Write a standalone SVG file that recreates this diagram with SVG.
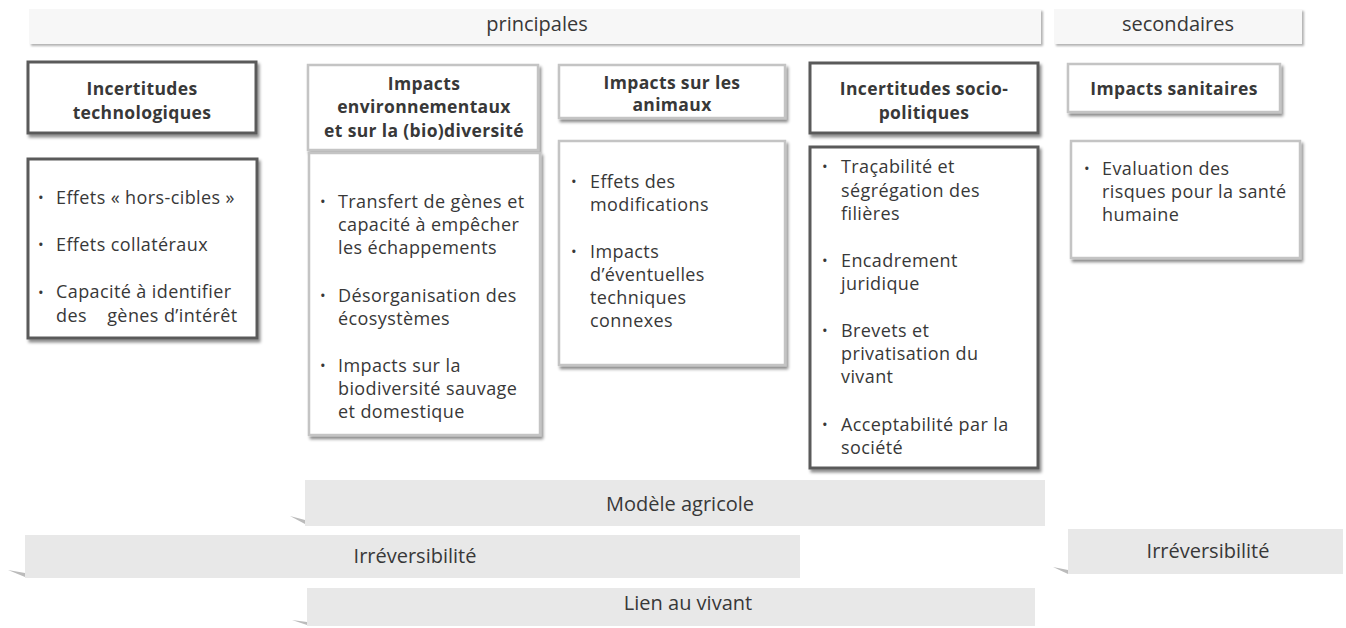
<svg xmlns="http://www.w3.org/2000/svg" width="1346" height="628" viewBox="0 0 1346 628">
<defs>
<filter id="sh" x="-5%" y="-5%" width="115%" height="120%">
<feDropShadow dx="2" dy="3" stdDeviation="1.5" flood-color="#000" flood-opacity="0.45"/>
</filter>
<filter id="sh2" x="-5%" y="-20%" width="115%" height="160%">
<feDropShadow dx="2" dy="2" stdDeviation="1.2" flood-color="#000" flood-opacity="0.3"/>
</filter>
<style>
text{font-family:"Open Sans","Noto Sans","DejaVu Sans",sans-serif;fill:#383838;}
.t{font-size:18px;letter-spacing:0.4px;}
.b{font-size:15px;}
.h{font-size:17.5px;letter-spacing:0.35px;font-weight:bold;text-anchor:middle;}
.c{text-anchor:middle;font-size:20px;}
.dark{fill:#fff;stroke:#5a5a5a;stroke-width:3;filter:url(#sh);}
.light{fill:#fff;stroke:#c4c4c4;stroke-width:2.5;filter:url(#sh);}
.top{fill:#f7f7f7;filter:url(#sh2);}
.bar{fill:#e8e8e8;}
</style>
</defs>

<g id="principales">
<rect class="top" x="29" y="9" width="1012" height="35"/>
<text class="c" x="537" y="31">principales</text>
</g>
<g id="secondaires">
<rect class="top" x="1054" y="9" width="248" height="35"/>
<text class="c" x="1178" y="31">secondaires</text>
</g>

<g id="h1">
<rect class="dark" x="28" y="62" width="228" height="71"/>
<text class="h" x="142" y="95">Incertitudes</text>
<text class="h" x="142" y="119">technologiques</text>
</g>
<g id="h2">
<rect class="light" x="308" y="65" width="230" height="85"/>
<text class="h" x="424" y="90">Impacts</text>
<text class="h" x="424" y="113">environnementaux</text>
<text class="h" x="424" y="137">et sur la (bio)diversité</text>
</g>
<g id="h3">
<rect class="light" x="559" y="65" width="226" height="53"/>
<text class="h" x="672" y="89">Impacts sur les</text>
<text class="h" x="672" y="111">animaux</text>
</g>
<g id="h4">
<rect class="dark" x="810" y="63" width="228" height="70"/>
<text class="h" x="924" y="95">Incertitudes socio-</text>
<text class="h" x="924" y="119">politiques</text>
</g>
<g id="h5">
<rect class="light" x="1068" y="64" width="212" height="48"/>
<text class="h" x="1174" y="95">Impacts sanitaires</text>
</g>

<g id="c1">
<rect class="dark" x="28" y="159" width="229" height="179"/>
<text class="b" x="38" y="203">•</text><text class="t" x="56" y="204">Effets « hors-cibles »</text>
<text class="b" x="38" y="250">•</text><text class="t" x="56" y="251">Effets collatéraux</text>
<text class="b" x="38" y="298">•</text><text class="t" x="56" y="298">Capacité à identifier</text>
<text class="t" x="56" y="322" xml:space="preserve">des    gènes d’intérêt</text>
</g>
<g id="c2">
<rect class="light" x="309" y="153" width="231" height="282"/>
<text class="b" x="320" y="207">•</text><text class="t" x="338" y="208">Transfert de gènes et</text>
<text class="t" x="338" y="231">capacité à empêcher</text>
<text class="t" x="338" y="254">les échappements</text>
<text class="b" x="320" y="301">•</text><text class="t" x="338" y="302">Désorganisation des</text>
<text class="t" x="338" y="325">écosystèmes</text>
<text class="b" x="320" y="371">•</text><text class="t" x="338" y="372">Impacts sur la</text>
<text class="t" x="338" y="395">biodiversité sauvage</text>
<text class="t" x="338" y="418">et domestique</text>
</g>
<g id="c3">
<rect class="light" x="559" y="141" width="226" height="224"/>
<text class="b" x="571" y="187">•</text><text class="t" x="590" y="188">Effets des</text>
<text class="t" x="590" y="211">modifications</text>
<text class="b" x="571" y="257">•</text><text class="t" x="590" y="258">Impacts</text>
<text class="t" x="590" y="281">d’éventuelles</text>
<text class="t" x="590" y="304">techniques</text>
<text class="t" x="590" y="327">connexes</text>
</g>
<g id="c4">
<rect class="dark" x="810" y="147" width="228" height="321"/>
<text class="b" x="822" y="172">•</text><text class="t" x="841" y="173">Traçabilité et</text>
<text class="t" x="841" y="197">ségrégation des</text>
<text class="t" x="841" y="220">filières</text>
<text class="b" x="822" y="266">•</text><text class="t" x="841" y="267">Encadrement</text>
<text class="t" x="841" y="290">juridique</text>
<text class="b" x="822" y="336">•</text><text class="t" x="841" y="337">Brevets et</text>
<text class="t" x="841" y="360">privatisation du</text>
<text class="t" x="841" y="383">vivant</text>
<text class="b" x="822" y="430">•</text><text class="t" x="841" y="431">Acceptabilité par la</text>
<text class="t" x="841" y="454">société</text>
</g>
<g id="c5">
<rect class="light" x="1071" y="141" width="229" height="117"/>
<text class="b" x="1084" y="174">•</text><text class="t" x="1102" y="175">Evaluation des</text>
<text class="t" x="1102" y="198">risques pour la santé</text>
<text class="t" x="1102" y="221">humaine</text>
</g>

<g id="modele">
<path d="M290 516 L305 520 L305 524 Z" fill="#bbb"/>
<rect class="bar" x="305" y="480" width="740" height="46"/>
<text class="c" x="680" y="511">Modèle agricole</text>
</g>
<g id="irrev1">
<path d="M8 570 L25 573 L25 577 Z" fill="#bbb"/>
<rect class="bar" x="25" y="535" width="775" height="43"/>
<text class="c" x="415" y="563">Irréversibilité</text>
</g>
<g id="irrev2">
<path d="M1053 567 L1068 570 L1068 574 Z" fill="#bbb"/>
<rect class="bar" x="1068" y="529" width="275" height="45"/>
<text class="c" x="1208" y="558">Irréversibilité</text>
</g>
<g id="lien">
<path d="M292 620 L307 622 L307 625 Z" fill="#bbb"/>
<rect class="bar" x="307" y="588" width="728" height="38"/>
<text class="c" x="688" y="610">Lien au vivant</text>
</g>
<g id="connectors"></g>
</svg>
